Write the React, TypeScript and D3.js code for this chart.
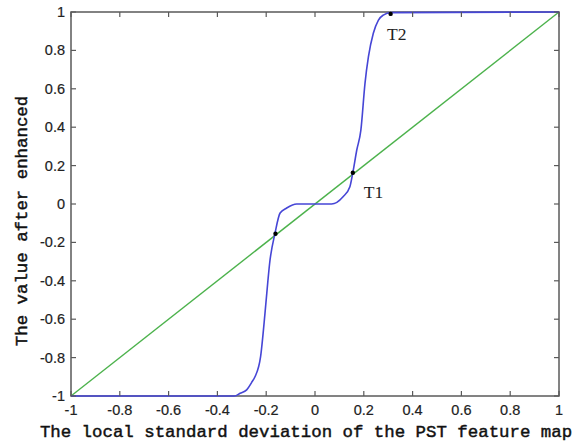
import React from "react";
import * as d3 from "d3";

const W = 575;
const H = 445;

const xTicks = [-1, -0.8, -0.6, -0.4, -0.2, 0, 0.2, 0.4, 0.6, 0.8, 1];
const yTicks = [-1, -0.8, -0.6, -0.4, -0.2, 0, 0.2, 0.4, 0.6, 0.8, 1];

const identityX = [-1, 1];
const identityY = [-1, 1];

const curveX = [
  -1, -0.33, -0.307, -0.28, -0.26, -0.246, -0.223, -0.205, -0.193, -0.186,
  -0.164, -0.143, -0.116, -0.075, 0.068, 0.115, 0.143, 0.155, 0.171, 0.188,
  0.205, 0.219, 0.239, 0.26, 0.28, 0.31, 1,
];
const curveY = [
  -1, -1, -0.986, -0.968, -0.93, -0.9, -0.795, -0.57, -0.4, -0.31, -0.153,
  -0.047, -0.021, 0.0, 0.0, 0.038, 0.09, 0.163, 0.28, 0.385, 0.63, 0.767,
  0.889, 0.958, 0.984, 0.997, 1,
];

const markerX = [-0.162, 0.155, 0.31];
const markerY = [-0.155, 0.163, 0.99];

const annotations = ["T1", "T2"];
const annotationX = [0.2, 0.295];
const annotationY = [0.03, 0.855];

const xLabel = "The local standard deviation of the PST feature map";
const yLabel = "The value after enhanced";

export default function App() {
  const left = 71;
  const right = 559;
  const top = 12;
  const bottom = 396;
  const x = d3.scaleLinear().domain([-1, 1]).range([left, right]);
  const y = d3.scaleLinear().domain([-1, 1]).range([bottom, top]);

  const idPts: [number, number][] = identityX.map((v, i) => [v, identityY[i]]);
  const curvePts: [number, number][] = curveX.map((v, i) => [v, curveY[i]]);
  const line = d3
    .line<[number, number]>()
    .x((d) => x(d[0]))
    .y((d) => y(d[1]));
  const smooth = d3
    .line<[number, number]>()
    .x((d) => x(d[0]))
    .y((d) => y(d[1]))
    .curve(d3.curveMonotoneX);

  const axisColor = "#5a5a5a";
  const tickLen = 5;
  const tickFont = "'Liberation Sans', Arial, sans-serif";
  const fmt = (v: number) => (Math.abs(v) < 1e-9 ? "0" : String(+v.toFixed(1)));
  const titleFont = "'Liberation Mono', 'DejaVu Sans Mono', monospace";

  return (
    <svg
      width={W}
      height={H}
      style={{ position: "absolute", left: 0, top: 0, background: "#fff" }}
    >
      <rect x={0} y={0} width={W} height={H} fill="#fff" />
      <path d={line(idPts) || ""} fill="none" stroke="#4cb24c" strokeWidth={1.4} />
      <rect
        x={left}
        y={top}
        width={right - left}
        height={bottom - top}
        fill="none"
        stroke={axisColor}
        strokeWidth={1.5}
      />
      <path d={smooth(curvePts) || ""} fill="none" stroke="#4646d6" strokeWidth={1.6} />
      {xTicks.map((t) => (
        <g key={"xt" + t}>
          <line x1={x(t)} x2={x(t)} y1={bottom} y2={bottom - tickLen} stroke={axisColor} strokeWidth={1.2} />
          <line x1={x(t)} x2={x(t)} y1={top} y2={top + tickLen} stroke={axisColor} strokeWidth={1.2} />
          <text
            x={x(t)}
            y={415}
            textAnchor="middle"
            fontFamily={tickFont}
            fontSize={14.5}
            fill="#222"
            stroke="#222"
            strokeWidth={0.2}
          >
            {fmt(t)}
          </text>
        </g>
      ))}
      {yTicks.map((t) => (
        <g key={"yt" + t}>
          <line x1={left} x2={left + tickLen} y1={y(t)} y2={y(t)} stroke={axisColor} strokeWidth={1.2} />
          <line x1={right} x2={right - tickLen} y1={y(t)} y2={y(t)} stroke={axisColor} strokeWidth={1.2} />
          <text
            x={65}
            y={y(t) + 5}
            textAnchor="end"
            fontFamily={tickFont}
            fontSize={14.5}
            fill="#222"
            stroke="#222"
            strokeWidth={0.2}
          >
            {fmt(t)}
          </text>
        </g>
      ))}
      {markerX.map((v, i) => (
        <circle key={"m" + i} cx={x(v)} cy={y(markerY[i])} r={2.2} fill="#000" />
      ))}
      {annotations.map((a, i) => (
        <text
          key={a}
          x={x(annotationX[i])}
          y={y(annotationY[i])}
          fontFamily="'Liberation Serif', 'Times New Roman', serif"
          fontSize={17.5}
          fill="#222"
        >
          {a}
        </text>
      ))}
      <text
        x={306}
        y={437}
        textAnchor="middle"
        fontFamily={titleFont}
        fontSize={17.4}
        fill="#111"
        stroke="#111"
        strokeWidth={0.45}
      >
        {xLabel}
      </text>
      <text
        transform="translate(27,221) rotate(-90)"
        textAnchor="middle"
        fontFamily={titleFont}
        fontSize={17.4}
        fill="#111"
        stroke="#111"
        strokeWidth={0.45}
      >
        {yLabel}
      </text>
    </svg>
  );
}
